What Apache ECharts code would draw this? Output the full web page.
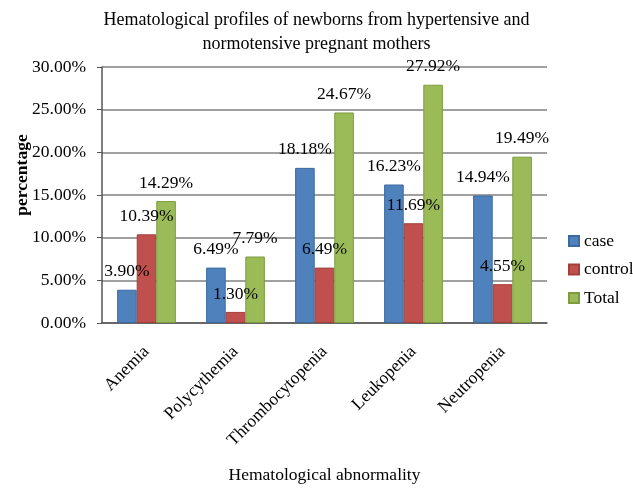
<!DOCTYPE html>
<html>
<head>
<meta charset="utf-8">
<script src="https://cdn.jsdelivr.net/npm/echarts@6/dist/echarts.min.js"></script>
<style>
html, body { margin: 0; padding: 0; background: #fff; }
#chart { width: 633px; height: 488px; }
</style>
</head>
<body>
<div id="chart"></div>
<script>
var categories = ['Anemia', 'Polycythemia', 'Thrombocytopenia', 'Leukopenia', 'Neutropenia'];
var caseValues = [3.90, 6.49, 18.18, 16.23, 14.94];
var controlValues = [10.39, 1.30, 6.49, 11.69, 4.55];
var totalValues = [14.29, 7.79, 24.67, 27.92, 19.49];

var serif = '"Liberation Serif", "Times New Roman", serif';
var fs = 17.5;

function pct(v) {
	return v.toFixed(2) + '%';
}

function makeSeries(name, data, color, border) {
	return {
		name: name,
		type: 'bar',
		data: data,
		barGap: '0%',
		barCategoryGap: '34%',
		itemStyle: {
			color: color,
			borderColor: border,
			borderWidth: 1
		},
		label: {
			show: true,
			position: 'top',
			distance: 9,
			fontFamily: serif,
			fontSize: fs,
			color: '#000',
			formatter: function (p) {
				return pct(p.value);
			}
		}
	};
}

var chart = echarts.init(document.getElementById('chart'));
var option = {
	backgroundColor: '#fff',
	animation: false,
	title: {
		text: 'Hematological profiles of newborns from hypertensive and\nnormotensive pregnant mothers',
		left: 'center',
		top: 3,
		textStyle: {
			fontFamily: serif,
			fontSize: 18,
			fontWeight: 'normal',
			color: '#000',
			lineHeight: 24
		}
	},
	legend: {
		orient: 'vertical',
		left: 568,
		top: 232,
		padding: 0,
		itemWidth: 10,
		itemHeight: 10,
		itemGap: 10.5,
		icon: 'rect',
		textStyle: {
			fontFamily: serif,
			fontSize: fs,
			lineHeight: 18,
			color: '#000',
			overflow: 'none'
		},
		data: ['case', 'control', 'Total']
	},
	graphic: [{
		type: 'text',
		x: 22,
		y: 175,
		rotation: Math.PI / 2,
		style: {
			text: 'percentage',
			font: 'bold 17.5px ' + serif,
			fill: '#000',
			align: 'center',
			verticalAlign: 'middle'
		}
	}],
	grid: {
		left: 102,
		right: 86,
		top: 67,
		bottom: 165,
		outerBoundsMode: 'none'
	},
	xAxis: {
		type: 'category',
		data: categories,
		name: 'Hematological abnormality',
		nameLocation: 'middle',
		nameGap: 143,
		nameTextStyle: {
			fontFamily: serif,
			fontSize: fs,
			color: '#000'
		},
		axisLine: { lineStyle: { color: '#555', width: 1.5 } },
		axisTick: { show: false },
		axisLabel: {
			interval: 0,
			rotate: 45,
			margin: 26,
			fontFamily: serif,
			fontSize: fs,
			color: '#000'
		}
	},
	yAxis: {
		type: 'value',
		min: 0,
		max: 30,
		interval: 5,
		axisLine: { show: true, lineStyle: { color: '#555', width: 1.5 } },
		axisTick: { show: true, length: 5, lineStyle: { color: '#555' } },
		splitLine: { lineStyle: { color: '#808080', width: 1.5 } },
		axisLabel: {
			margin: 16,
			fontFamily: serif,
			fontSize: fs,
			color: '#000',
			formatter: function (v) {
				return pct(v);
			}
		}
	},
	series: [
		makeSeries('case', caseValues, '#4F81BD', '#3B6AA0'),
		makeSeries('control', controlValues, '#C0504D', '#A33E3B'),
		makeSeries('Total', totalValues, '#9BBB59', '#7D9C3E')
	]
};
chart.setOption(option);
</script>
</body>
</html>
